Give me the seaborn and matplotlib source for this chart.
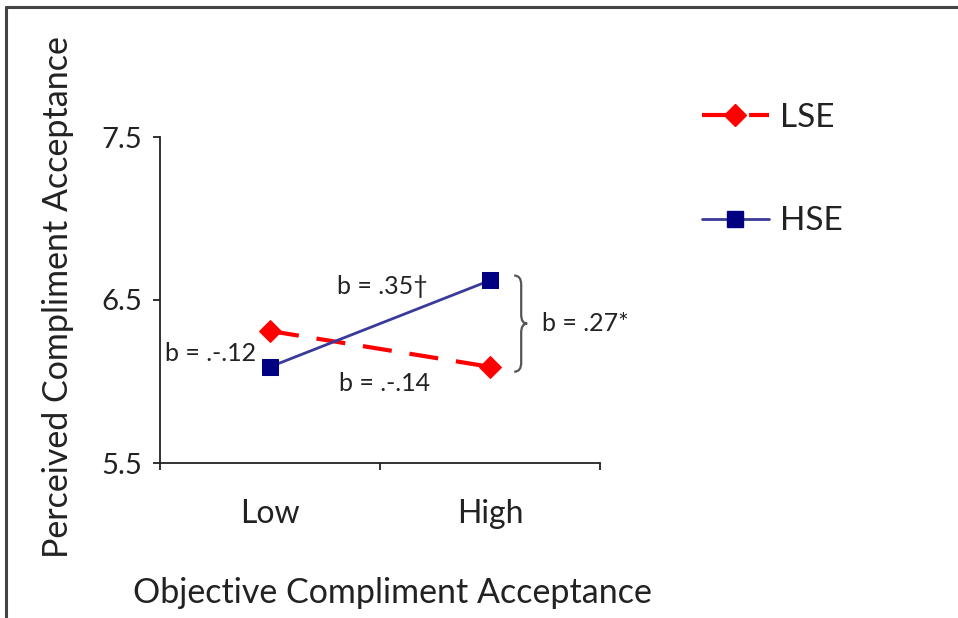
import matplotlib
matplotlib.use("Agg")
import matplotlib.pyplot as plt
from matplotlib.path import Path
from matplotlib.patches import PathPatch
from matplotlib.lines import Line2D
import seaborn as sns
import pandas as pd

# Simple-slopes data
levels = ["Low", "High"]
groups = ["LSE", "HSE"]
lse_means = [6.31, 6.09]
hse_means = [6.09, 6.62]
y_ticks = [5.5, 6.5, 7.5]
y_tick_labels = ["5.5", "6.5", "7.5"]

df = pd.DataFrame({
    "Objective": levels * 2,
    "Group": [groups[0]] * 2 + [groups[1]] * 2,
    "Perceived": lse_means + hse_means,
})

sns.set_theme(style="white")
plt.rcParams["font.family"] = ["Lato", "DejaVu Sans"]
text_color = "#222222"

fig = plt.figure(figsize=(9.58, 6.18), dpi=100)
W, H = 958, 618
ax = fig.add_axes([160 / W, 1 - 463 / H, 440 / W, 326 / H])

red = "#ff0000"
navy = "#000080"
line_blue = "#3a3a9c"

sns.lineplot(
    data=df, x="Objective", y="Perceived", hue="Group", style="Group",
    palette={"LSE": red, "HSE": line_blue},
    markers={"LSE": "D", "HSE": "s"},
    dashes={"LSE": (7, 4.3), "HSE": ""},
    ax=ax, legend=False, sort=False,
)
lse_line, hse_line = ax.lines[0], ax.lines[1]
lse_line.set_linewidth(3)
lse_line.set_markersize(11)
lse_line.set_markerfacecolor(red)
lse_line.set_markeredgecolor(red)
hse_line.set_linewidth(2)
hse_line.set_markersize(11)
hse_line.set_markerfacecolor(navy)
hse_line.set_markeredgecolor(navy)

ax.set_xlim(-0.5, 1.5)
ax.set_ylim(5.5, 7.5)

# Tick marks at category boundaries, labels at category centres
ax.set_xticks([-0.5, 0.5, 1.5])
ax.set_xticklabels([])
ax.set_xticks([0, 1], minor=True)
ax.set_xticklabels(levels, minor=True)
ax.tick_params(axis="x", which="major", direction="out", length=5, width=1.3,
               color="#222222", bottom=True)
ax.tick_params(axis="x", which="minor", length=0, pad=26, labelsize=23,
               labelcolor=text_color)
ax.set_yticks(y_ticks)
ax.set_yticklabels(y_tick_labels)
ax.tick_params(axis="y", direction="out", length=5, width=1.3, color="#222222",
               left=True, pad=8, labelsize=21, labelcolor=text_color)

for side in ["top", "right"]:
    ax.spines[side].set_visible(False)
for side in ["left", "bottom"]:
    ax.spines[side].set_color("#222222")
    ax.spines[side].set_linewidth(1.3)

ax.set_xlabel("Objective Compliment Acceptance", fontsize=24.5, color=text_color)
ax.xaxis.set_label_coords((392 - 160) / 440, (463 - 593) / 326)
ax.xaxis.label.set_va("center")
ax.set_ylabel("Perceived Compliment Acceptance", fontsize=24.5, color=text_color)
ax.yaxis.set_label_coords((58 - 160) / 440, (463 - 297) / 326)
ax.yaxis.label.set_va("center")

# Slope annotations
ann = dict(fontsize=18, color=text_color, ha="center", va="center")
ax.text(0.51, 6.58, "b = .35\u2020", **ann)
ax.text(-0.27, 6.17, "b = .-.12", **ann)
ax.text(0.52, 5.99, "b = .-.14", **ann)

# Curly brace spanning the two High means
px, py = 1 / 220, 1 / 163
x0 = 1.11
yt, yb = hse_means[1] + 0.03, lse_means[1] - 0.03
ym = (yt + yb) / 2
w, tip, r = 7 * px, 13 * px, 9 * py
verts = [
    (x0, yt), (x0 + w, yt), (x0 + w, yt - r),
    (x0 + w, ym + r),
    (x0 + w, ym), (x0 + tip, ym),
    (x0 + w, ym), (x0 + w, ym - r),
    (x0 + w, yb + r),
    (x0 + w, yb), (x0, yb),
]
codes = [Path.MOVETO, Path.CURVE3, Path.CURVE3, Path.LINETO,
         Path.CURVE3, Path.CURVE3, Path.CURVE3, Path.CURVE3,
         Path.LINETO, Path.CURVE3, Path.CURVE3]
ax.add_patch(PathPatch(Path(verts, codes), fill=False, edgecolor="#555555",
                       linewidth=1.6, clip_on=False))
ax.text(x0 + 28 * px, ym, "b = .27*", fontsize=18, color=text_color,
        ha="left", va="center")

# Legend
handles = [
    Line2D([], [], color=red, lw=3, dashes=(7, 4.3), marker="D", markersize=11,
           markerfacecolor=red, markeredgecolor=red),
    Line2D([], [], color=line_blue, lw=2, marker="s", markersize=11,
           markerfacecolor=navy, markeredgecolor=navy),
]
ax.legend(handles, groups, loc="upper left", bbox_to_anchor=(702 / W, 1 - 103 / H),
          bbox_transform=fig.transFigure, frameon=False, fontsize=24,
          handlelength=2.0, handletextpad=0.35, labelspacing=2.2,
          borderpad=0, borderaxespad=0, labelcolor=text_color)

# Outer frame (top and left edges)
fig.add_artist(Line2D([6 / W, 1], [1 - 7 / H, 1 - 7 / H], color="#444444", lw=2.2,
                      transform=fig.transFigure))
fig.add_artist(Line2D([6 / W, 6 / W], [0, 1 - 7 / H], color="#444444", lw=2.2,
                      transform=fig.transFigure))

fig.savefig("out.png", dpi=100)
